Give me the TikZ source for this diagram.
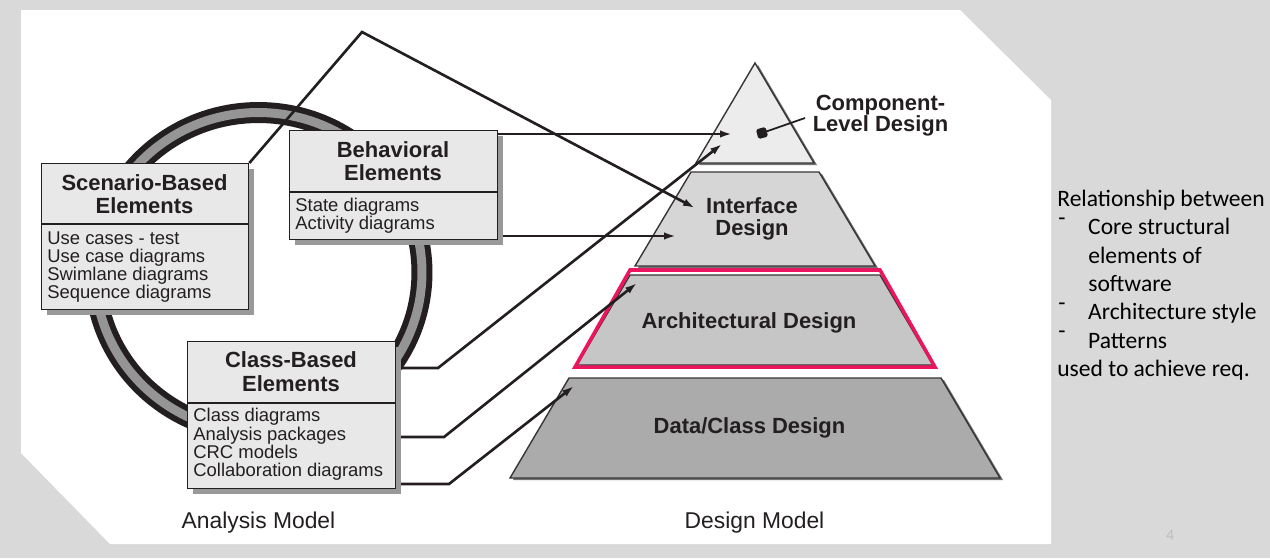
\documentclass[tikz,border=0pt]{standalone}
\usepackage{fontspec}
\setmainfont{Liberation Sans}
\newfontfamily\carl{Carlito}
\usetikzlibrary{arrows.meta,shadows}
\definecolor{bg}{HTML}{D9D9D9}
\definecolor{ink}{HTML}{231F20}
\definecolor{boxfill}{HTML}{E8E8E8}
\definecolor{ringgray}{HTML}{959595}
\definecolor{hotpink}{HTML}{EC145F}
\definecolor{lvA}{HTML}{ECECEC}
\definecolor{lvB}{HTML}{D6D6D6}
\definecolor{lvC}{HTML}{C6C6C6}
\definecolor{lvD}{HTML}{ABABAB}
\newcommand{\bulletdash}{\makebox[17pt][l]{\raisebox{5.5pt}{-}}}
\begin{document}
\begin{tikzpicture}[x=0.02cm,y=-0.02cm,
  box/.style={draw=ink, line width=0.8pt, fill=boxfill, inner sep=0pt,
    general shadow={fill=black!40, shadow xshift=0.1cm, shadow yshift=-0.1cm}},
  level/.style={draw=ink!90, line width=0.8pt,
    general shadow={fill=black!55, shadow xshift=0.06cm, shadow yshift=-0.04cm}},
  conn/.style={draw=ink, line width=1.5pt, line join=miter},
  arr/.style={conn, -{Latex[length=0.24cm,width=0.15cm]}},
  item/.style={font=\fontsize{10.5}{12}\selectfont, text=ink, anchor=base west, inner sep=0pt},
  ttl/.style={font=\bfseries\fontsize{12.5}{14}\selectfont, text=ink, anchor=base, inner sep=0pt},
  model/.style={font=\fontsize{13}{15}\selectfont, text=ink, anchor=base, inner sep=0pt},
  side/.style={font=\carl\fontsize{13.4}{16}\selectfont, text=black, anchor=base west, inner sep=0pt}
]
% background
\fill[bg] (0,0) rectangle (1270,558);
\fill[white] (21,10) -- (960,10) -- (1051,100) -- (1051,544) -- (110,544) -- (21,453) -- cycle;

% ring
\draw[line width=0.42cm, ink] (258.5,272.5) ellipse [x radius=3.27cm, y radius=3.2cm];
\draw[line width=0.18cm, ringgray] (258.5,272.5) ellipse [x radius=3.27cm, y radius=3.2cm];

% pyramid
\path[level, fill=lvD] (569,378) -- (941,378) -- (1000,478) -- (510,478) -- cycle;
\path[level, fill=lvC] (630,275) -- (880,275) -- (933,365) -- (577,365) -- cycle;
\draw[hotpink, line width=2pt, line join=miter] (630,270) -- (880,270) -- (935,367) -- (575,367) -- cycle;
\path[level, fill=lvB] (691,172) -- (819,172) -- (875,266) -- (635,266) -- cycle;
\path[level, fill=lvA] (755,63) -- (814,163) -- (696,163) -- cycle;

% connector coordinates
\coordinate (peak) at (362,32);
\coordinate (ifTip) at (695,208);
\coordinate (clTip) at (732,134);
\coordinate (ifTipB) at (676,236);
\coordinate (k1) at (438,368);
\coordinate (compTip) at (722,144);
\coordinate (k2) at (444,437);
\coordinate (archTip) at (637,283);
\coordinate (k3) at (449,484);
\coordinate (dataTip) at (574,386);
\coordinate (clEnd) at (805,118);

% boxes
\node[box, minimum width=4.14cm, minimum height=2.92cm, anchor=north west] (scen) at (41,163) {};
\node[box, minimum width=4.16cm, minimum height=2.18cm, anchor=north west] (beh) at (289,130) {};
\node[box, minimum width=4.16cm, minimum height=2.94cm, anchor=north west] (cls) at (187,341) {};

% connectors
\draw[arr] (scen.north east) -- (peak) -- (ifTip);
\draw[arr] (beh.east |- clTip) -- (clTip);
\draw[arr] (beh.east |- ifTipB) -- (ifTipB);
\draw[arr] (cls.east |- k1) -- (k1) -- (compTip);
\draw[arr] (cls.east |- k2) -- (k2) -- (archTip);
\draw[arr] (cls.east |- k3) -- (k3) -- (dataTip);

% redraw boxes on top of connector starts
\node[box, minimum width=4.14cm, minimum height=2.92cm, anchor=north west] (scenB) at (41,163) {};
\node[box, minimum width=4.16cm, minimum height=2.18cm, anchor=north west] (behB) at (289,130) {};
\node[box, minimum width=4.16cm, minimum height=2.94cm, anchor=north west] (clsB) at (187,341) {};

% dividers
\draw[ink, line width=0.8pt] (scen.west |- 0,224) -- (scen.east |- 0,224);
\draw[ink, line width=0.8pt] (beh.west |- 0,192) -- (beh.east |- 0,192);
\draw[ink, line width=0.8pt] (cls.west |- 0,403) -- (cls.east |- 0,403);

% box texts
\node[ttl] (scT1) at (144.5,190.7) {Scenario-Based};
\node[ttl] (scT2) at (144.5,213) {Elements};
\node[item] (sc1) at (47,244) {Use cases - test};
\node[item] (sc2) at (47,262) {Use case diagrams};
\node[item] (sc3) at (47,280) {Swimlane diagrams};
\node[item] (sc4) at (47,298) {Sequence diagrams};

\node[ttl] (beT1) at (393,157) {Behavioral};
\node[ttl] (beT2) at (393,180) {Elements};
\node[item] (be1) at (295,211) {State diagrams};
\node[item] (be2) at (295,229) {Activity diagrams};

\node[ttl] (clT1) at (291,367) {Class-Based};
\node[ttl] (clT2) at (291,391.7) {Elements};
\node[item] (cl1) at (193,421.7) {Class diagrams};
\node[item] (cl2) at (193,440) {Analysis packages};
\node[item] (cl3) at (193,458) {CRC models};
\node[item] (cl4) at (193,476.7) {Collaboration diagrams};

% pyramid labels
\node[ttl] (cmp1) at (880.5,110) {Component-};
\node[ttl] (cmp2) at (880.5,131) {Level Design};
\node[ttl] (int1) at (752,213) {Interface};
\node[ttl] (int2) at (752,235) {Design};
\node[ttl] (arch) at (749,328) {Architectural Design};
\node[ttl] (data) at (749.5,433) {Data/Class Design};

% component marker
\node[fill=ink, rounded corners=1pt, minimum size=0.2cm, inner sep=0pt, rotate=15] (mark) at (762,133) {};
\draw[ink, line width=1pt] (mark.center) -- (clEnd);

% model labels
\node[model] (am) at (258.5,528) {Analysis Model};
\node[model] (dm) at (754.5,528) {Design Model};

% side text
\node[side] (s1) at (1057,206.5) {Relationship between};
\node[side] (s2) at (1058,234.8) {\bulletdash Core structural};
\node[side] (s3) at (1088,263.1) {elements of};
\node[side] (s4) at (1088,291.4) {software};
\node[side] (s5) at (1058,319.7) {\bulletdash Architecture style};
\node[side] (s6) at (1058,348) {\bulletdash Patterns};
\node[side] (s7) at (1057,376.3) {used to achieve req.};

% page number
\node[font=\carl\fontsize{9}{10}\selectfont, text=black!25, inner sep=0pt] (pg) at (1170,535) {4};
\end{tikzpicture}
\end{document}
